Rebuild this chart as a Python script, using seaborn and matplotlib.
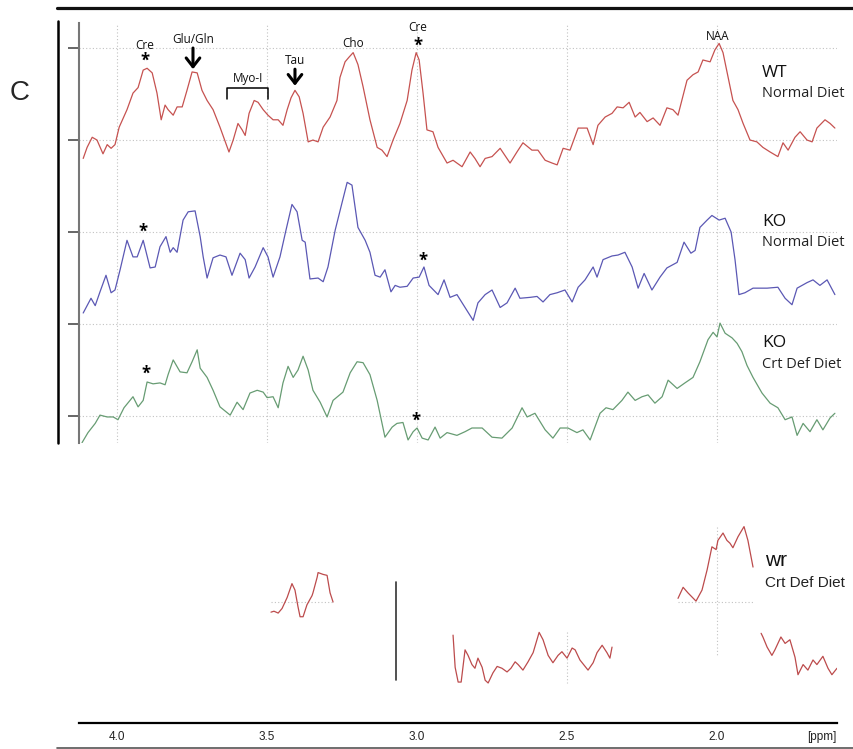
import matplotlib

matplotlib.use('Agg')
import matplotlib.pyplot as plt
from matplotlib.lines import Line2D
import pandas as pd
import seaborn as sns

sns.set_theme(style='white')
plt.rcParams['font.family'] = ['Open Sans', 'DejaVu Sans']

# %% Spectra (ppm, stacked intensity, 1 unit = 1 tick)

wt_ppm = [4.113, 4.100, 4.083, 4.067, 4.047, 4.033, 4.020, 4.007, 3.993, 3.967,
          3.947, 3.930, 3.913, 3.900, 3.883, 3.867, 3.853, 3.840, 3.830, 3.813,
          3.800, 3.783, 3.767, 3.750, 3.733, 3.717, 3.700, 3.680, 3.657, 3.627,
          3.613, 3.597, 3.583, 3.573, 3.560, 3.543, 3.530, 3.513, 3.497, 3.480,
          3.463, 3.447, 3.433, 3.420, 3.407, 3.393, 3.380, 3.363, 3.347, 3.330,
          3.313, 3.290, 3.267, 3.257, 3.240, 3.227, 3.213, 3.197, 3.180, 3.157,
          3.133, 3.117, 3.100, 3.080, 3.057, 3.033, 3.017, 3.003, 2.993, 2.980,
          2.967, 2.947, 2.930, 2.900, 2.880, 2.850, 2.823, 2.807, 2.790, 2.773,
          2.750, 2.723, 2.690, 2.667, 2.647, 2.617, 2.597, 2.573, 2.550, 2.533,
          2.513, 2.490, 2.463, 2.433, 2.413, 2.397, 2.373, 2.350, 2.333, 2.313,
          2.293, 2.273, 2.257, 2.233, 2.213, 2.190, 2.167, 2.147, 2.130, 2.100,
          2.080, 2.063, 2.047, 2.023, 2.007, 1.993, 1.980, 1.963, 1.947, 1.930,
          1.913, 1.890, 1.867, 1.847, 1.823, 1.797, 1.780, 1.763, 1.740, 1.723,
          1.700, 1.683, 1.667, 1.640, 1.623, 1.607]
wt_int = [2.80, 2.92, 3.03, 3.00, 2.85, 2.95, 2.91, 2.95, 3.14, 3.33,
          3.51, 3.57, 3.76, 3.78, 3.73, 3.51, 3.22, 3.38, 3.33, 3.27,
          3.36, 3.36, 3.54, 3.74, 3.73, 3.54, 3.43, 3.33, 3.14, 2.87,
          3.00, 3.18, 3.11, 3.05, 3.29, 3.43, 3.41, 3.33, 3.27, 3.22,
          3.22, 3.16, 3.33, 3.46, 3.54, 3.47, 3.29, 2.98, 3.00, 2.98,
          3.14, 3.25, 3.43, 3.68, 3.85, 3.90, 3.95, 3.82, 3.58, 3.22,
          2.92, 2.89, 2.82, 3.00, 3.18, 3.43, 3.76, 3.95, 3.87, 3.51,
          3.11, 3.09, 2.92, 2.75, 2.78, 2.71, 2.87, 2.80, 2.71, 2.80,
          2.82, 2.91, 2.75, 2.87, 2.97, 2.89, 2.89, 2.78, 2.75, 2.73,
          2.91, 2.89, 3.13, 3.13, 2.95, 3.16, 3.25, 3.29, 3.36, 3.35,
          3.41, 3.25, 3.30, 3.20, 3.24, 3.16, 3.35, 3.33, 3.27, 3.65,
          3.71, 3.74, 3.87, 3.85, 3.98, 4.05, 3.95, 3.68, 3.43, 3.33,
          3.18, 3.00, 2.98, 2.92, 2.87, 2.82, 2.97, 2.89, 3.03, 3.09,
          3.00, 2.98, 3.13, 3.22, 3.18, 3.13]

ko_ppm = [4.113, 4.087, 4.073, 4.057, 4.037, 4.020, 4.007, 3.990, 3.967, 3.947,
          3.933, 3.913, 3.890, 3.873, 3.857, 3.837, 3.823, 3.813, 3.800, 3.780,
          3.763, 3.740, 3.723, 3.713, 3.700, 3.680, 3.657, 3.637, 3.617, 3.590,
          3.573, 3.560, 3.540, 3.513, 3.497, 3.480, 3.457, 3.437, 3.417, 3.400,
          3.383, 3.373, 3.357, 3.330, 3.313, 3.297, 3.273, 3.250, 3.233, 3.217,
          3.197, 3.173, 3.157, 3.140, 3.123, 3.107, 3.087, 3.073, 3.057, 3.033,
          3.013, 2.993, 2.977, 2.960, 2.930, 2.910, 2.890, 2.867, 2.840, 2.813,
          2.797, 2.773, 2.750, 2.723, 2.700, 2.673, 2.657, 2.623, 2.600, 2.580,
          2.557, 2.533, 2.507, 2.483, 2.463, 2.440, 2.413, 2.400, 2.380, 2.350,
          2.330, 2.307, 2.283, 2.263, 2.243, 2.217, 2.190, 2.167, 2.133, 2.110,
          2.087, 2.073, 2.057, 2.033, 2.017, 1.993, 1.973, 1.953, 1.940, 1.927,
          1.907, 1.880, 1.857, 1.833, 1.797, 1.773, 1.750, 1.733, 1.700, 1.680,
          1.657, 1.633, 1.607]
ko_int = [1.12, 1.28, 1.20, 1.35, 1.53, 1.34, 1.37, 1.59, 1.91, 1.73,
          1.73, 1.91, 1.61, 1.62, 1.84, 1.95, 1.78, 1.83, 1.78, 2.13,
          2.22, 2.23, 1.95, 1.73, 1.50, 1.72, 1.75, 1.73, 1.53, 1.77,
          1.70, 1.50, 1.62, 1.83, 1.73, 1.51, 1.73, 2.02, 2.30, 2.22,
          1.91, 1.89, 1.49, 1.50, 1.46, 1.62, 2.02, 2.32, 2.54, 2.51,
          2.05, 1.91, 1.78, 1.53, 1.51, 1.59, 1.35, 1.42, 1.40, 1.41,
          1.50, 1.51, 1.62, 1.42, 1.32, 1.48, 1.29, 1.32, 1.18, 1.04,
          1.23, 1.32, 1.37, 1.18, 1.23, 1.39, 1.28, 1.29, 1.30, 1.24,
          1.32, 1.34, 1.37, 1.24, 1.40, 1.48, 1.62, 1.51, 1.70, 1.74,
          1.75, 1.78, 1.62, 1.39, 1.55, 1.37, 1.51, 1.61, 1.67, 1.89,
          1.77, 1.80, 2.05, 2.13, 2.18, 2.13, 2.15, 2.00, 1.70, 1.32,
          1.34, 1.39, 1.39, 1.39, 1.40, 1.28, 1.21, 1.39, 1.45, 1.48,
          1.42, 1.48, 1.32]

crt_ppm = [4.117, 4.097, 4.073, 4.057, 4.033, 4.013, 3.997, 3.977, 3.947, 3.930,
           3.913, 3.900, 3.880, 3.857, 3.840, 3.830, 3.813, 3.790, 3.767, 3.750,
           3.733, 3.723, 3.700, 3.680, 3.657, 3.623, 3.600, 3.580, 3.557, 3.533,
           3.513, 3.500, 3.480, 3.463, 3.447, 3.430, 3.413, 3.397, 3.380, 3.363,
           3.347, 3.323, 3.300, 3.280, 3.247, 3.223, 3.200, 3.180, 3.157, 3.133,
           3.107, 3.083, 3.067, 3.047, 3.030, 3.013, 3.000, 2.983, 2.963, 2.940,
           2.923, 2.900, 2.867, 2.840, 2.817, 2.783, 2.750, 2.717, 2.683, 2.650,
           2.633, 2.607, 2.573, 2.547, 2.523, 2.497, 2.467, 2.447, 2.423, 2.390,
           2.370, 2.347, 2.317, 2.297, 2.273, 2.250, 2.230, 2.207, 2.183, 2.163,
           2.133, 2.107, 2.080, 2.057, 2.030, 2.013, 2.000, 1.990, 1.973, 1.950,
           1.933, 1.917, 1.900, 1.880, 1.850, 1.823, 1.797, 1.773, 1.750, 1.733,
           1.713, 1.690, 1.667, 1.647, 1.623, 1.607]
crt_int = [-0.29, -0.18, -0.08, 0.01, -0.01, -0.01, -0.04, 0.09, 0.21, 0.10,
           0.17, 0.37, 0.35, 0.36, 0.34, 0.45, 0.61, 0.48, 0.47, 0.59,
           0.72, 0.52, 0.42, 0.28, 0.10, 0.01, 0.15, 0.07, 0.25, 0.28,
           0.26, 0.20, 0.21, 0.09, 0.36, 0.54, 0.42, 0.50, 0.65, 0.50,
           0.28, 0.15, -0.01, 0.17, 0.26, 0.47, 0.59, 0.58, 0.45, 0.17,
           -0.23, -0.12, -0.08, -0.07, -0.26, -0.17, -0.13, -0.24, -0.26, -0.12,
           -0.24, -0.18, -0.21, -0.17, -0.13, -0.13, -0.23, -0.24, -0.13, 0.09,
           -0.01, 0.03, -0.15, -0.24, -0.13, -0.13, -0.18, -0.15, -0.26, 0.03,
           0.09, 0.07, 0.17, 0.26, 0.17, 0.21, 0.23, 0.14, 0.21, 0.39,
           0.30, 0.36, 0.42, 0.59, 0.83, 0.91, 0.86, 1.01, 0.90, 0.85,
           0.79, 0.70, 0.55, 0.42, 0.25, 0.14, 0.09, -0.04, -0.01, -0.21,
           -0.08, -0.17, -0.04, -0.15, -0.02, 0.03]

# broken-up fragments of the lower "wr / Crt Def Diet" spectrum
frag1_ppm = [3.487, 3.477, 3.463, 3.450, 3.433, 3.417, 3.407, 3.397, 3.390, 3.380,
             3.367, 3.350, 3.347, 3.333, 3.330, 3.313, 3.300, 3.290, 3.280]
frag1_int = [-0.11, -0.10, -0.12, -0.07, 0.05, 0.20, 0.13, -0.05, -0.16, -0.16,
             -0.03, 0.07, 0.10, 0.27, 0.32, 0.30, 0.29, 0.10, 0.00]
frag2_ppm = [2.880, 2.873, 2.863, 2.853, 2.840, 2.830, 2.817, 2.807, 2.797, 2.783,
             2.773, 2.763, 2.747, 2.733, 2.717, 2.700, 2.687, 2.673, 2.663, 2.647,
             2.630, 2.613, 2.593, 2.580, 2.563, 2.547, 2.530, 2.517, 2.500, 2.483,
             2.473, 2.457, 2.430, 2.413, 2.400, 2.383, 2.367, 2.357, 2.350]
frag2_int = [-0.36, -0.71, -0.87, -0.87, -0.52, -0.58, -0.68, -0.72, -0.61, -0.71,
             -0.85, -0.88, -0.77, -0.70, -0.72, -0.76, -0.72, -0.65, -0.68, -0.74,
             -0.65, -0.55, -0.33, -0.41, -0.58, -0.66, -0.58, -0.54, -0.61, -0.50,
             -0.52, -0.63, -0.74, -0.66, -0.55, -0.47, -0.55, -0.61, -0.49]
frag3_ppm = [2.130, 2.113, 2.097, 2.070, 2.050, 2.033, 2.017, 2.003, 1.997, 1.980,
             1.967, 1.957, 1.947, 1.930, 1.910, 1.897, 1.880]
frag3_int = [0.04, 0.16, 0.10, 0.01, 0.13, 0.35, 0.60, 0.57, 0.67, 0.75,
             0.67, 0.64, 0.59, 0.71, 0.82, 0.67, 0.38]
frag4_ppm = [1.853, 1.847, 1.833, 1.817, 1.807, 1.787, 1.773, 1.757, 1.740, 1.730,
             1.713, 1.697, 1.680, 1.667, 1.647, 1.630, 1.617, 1.600]
frag4_int = [-0.34, -0.38, -0.49, -0.58, -0.52, -0.38, -0.45, -0.41, -0.60, -0.79,
             -0.68, -0.74, -0.63, -0.68, -0.59, -0.72, -0.79, -0.72]

ppm_ticks = [4.0, 3.5, 3.0, 2.5, 2.0]
ppm_labels = ['4.0', '3.5', '3.0', '2.5', '2.0']

peak_names = ['Cre', 'Glu/Gln', 'Myo-I', 'Tau', 'Cho', 'Cre', 'NAA']
peak_ppm = [3.907, 3.747, 3.563, 3.407, 3.213, 2.997, 1.997]
peak_y = [4.03, 4.09, 3.67, 3.86, 4.05, 4.22, 4.13]

group_names = ['WT\n', 'KO\n', 'KO\n']
diet_names = ['Normal Diet', 'Normal Diet', 'Crt Def Diet']

COLORS = {'WT': '#c65250', 'KO normal': '#5b58b4', 'KO crt': '#679c73'}
WR_COLOR = '#bc4b4c'

spectra = pd.concat([
    pd.DataFrame({'ppm': wt_ppm, 'signal': wt_int, 'trace': 'WT'}),
    pd.DataFrame({'ppm': ko_ppm, 'signal': ko_int, 'trace': 'KO normal'}),
    pd.DataFrame({'ppm': crt_ppm, 'signal': crt_int, 'trace': 'KO crt'}),
])
fragments = pd.concat([
    pd.DataFrame({'ppm': p, 'signal': s, 'piece': i})
    for i, (p, s) in enumerate([(frag1_ppm, frag1_int), (frag2_ppm, frag2_int),
                                (frag3_ppm, frag3_int), (frag4_ppm, frag4_int)])
])

# %% Figure

W, H = 854, 749
fig = plt.figure(figsize=(W / 100, H / 100), dpi=100)


def box(x0, y0, x1, y1):
    return [x0 / W, 1 - y1 / H, (x1 - x0) / W, (y1 - y0) / H]


XLIM = (4.127, 1.600)

# upper stacked spectra
ax = fig.add_axes(box(79, 23, 837, 443))
ax.set_axisbelow(True)
sns.lineplot(data=spectra, x='ppm', y='signal', hue='trace', palette=COLORS,
             estimator=None, sort=False, legend=False, lw=0.9, ax=ax)
ax.set_xlim(*XLIM)
ax.set_ylim(-0.293, 4.272)
ax.set_xticks(ppm_ticks)
ax.set_yticks([0, 1, 2, 3, 4])
ax.grid(True, ls=(0, (1, 2)), color='#c2c2c2', lw=0.8)
ax.tick_params(axis='x', bottom=False, labelbottom=False)
ax.tick_params(axis='y', left=True, length=8, width=1.4, color='#666666',
               labelleft=False)
for side in ['top', 'right', 'bottom']:
    ax.spines[side].set_visible(False)
ax.spines['left'].set_color('#777777')
ax.spines['left'].set_linewidth(1.5)
ax.set_xlabel('')
ax.set_ylabel('')

for name, x, y in zip(peak_names, peak_ppm, peak_y):
    ax.text(x, y, name, ha='center', va='center', fontsize=8.5, color='#111111')

# asterisks for the creatine peaks
star_ppm = [3.907, 2.997, 3.913, 2.980, 3.903, 3.003]
star_y = [3.86, 4.03, 2.00, 1.69, 0.46, -0.05]
for x, y in zip(star_ppm, star_y):
    ax.text(x, y, '*', ha='center', va='center', fontsize=12,
            fontweight='bold', color='black')

for x, y0, y1 in [(3.747, 4.00, 3.77), (3.407, 3.77, 3.59)]:
    ax.annotate('', xy=(x, y1), xytext=(x, y0),
                arrowprops=dict(arrowstyle='->,head_length=0.45,head_width=0.35',
                                lw=2.2, color='black', shrinkA=0, shrinkB=0,
                                mutation_scale=14))
ax.plot([3.633, 3.633, 3.497, 3.497], [3.45, 3.57, 3.57, 3.45],
        color='black', lw=1.1)

for name, diet, y in zip(group_names, diet_names, [3.73, 2.11, 0.79]):
    ax.text(1.850, y, name.strip(), ha='left', va='center', fontsize=12.5,
            color='#111111')
    ax.text(1.850, y - 0.225, diet, ha='left', va='center', fontsize=10.5,
            color='#222222')

# lower fragmented spectrum and ppm scale
ax2 = fig.add_axes(box(79, 500, 837, 723))
sns.lineplot(data=fragments, x='ppm', y='signal', units='piece',
             estimator=None, sort=False, color=WR_COLOR, lw=0.9, ax=ax2)
ax2.set_xlim(*XLIM)
ax2.set_ylim(-1.315, 1.109)
ax2.grid(False)
dot = dict(ls=(0, (1, 2)), color='#c2c2c2', lw=0.8, zorder=0)
ax2.plot([frag1_ppm[0], frag1_ppm[-1]], [0, 0], **dot)
ax2.plot([frag3_ppm[0], frag3_ppm[-1]], [0, 0], **dot)
ax2.plot([2.0, 2.0], [0.82, -0.58], **dot)
ax2.plot([2.5, 2.5], [-0.33, -0.88], **dot)
ax2.plot([3.07, 3.07], [0.22, -0.85], color='#333333', lw=1.2)
ax2.set_xticks(ppm_ticks)
ax2.set_xticklabels(ppm_labels, fontsize=8.5,
                    family=['Liberation Sans', 'DejaVu Sans'])
ax2.tick_params(axis='x', bottom=True, length=0, pad=6, colors='#222222')
ax2.tick_params(axis='y', left=False, labelleft=False)
for side in ['top', 'right', 'left']:
    ax2.spines[side].set_visible(False)
ax2.spines['bottom'].set_color('black')
ax2.spines['bottom'].set_linewidth(1.6)
ax2.set_xlabel('')
ax2.set_ylabel('')
ax2.annotate('[ppm]', xy=(1.65, 0), xycoords=('data', 'axes fraction'),
             xytext=(0, -10), textcoords='offset points', ha='center',
             va='center', fontsize=8.5, color='#222222',
             family=['Liberation Sans', 'DejaVu Sans'])
ax2.text(1.840, 0.45, 'wr', ha='left', va='center', fontsize=15,
         color='#111111', family=['Liberation Sans', 'DejaVu Sans'])
ax2.text(1.840, 0.21, 'Crt Def Diet', ha='left', va='center', fontsize=11,
         color='#222222', family=['Liberation Sans', 'DejaVu Sans'])

# panel letter and frame rules
fig.text(20 / W, 1 - 93 / H, 'C', ha='center', va='center', fontsize=20,
         family=['Liberation Sans', 'DejaVu Sans'])
fig.add_artist(Line2D([58 / W, 58 / W], [1 - 21 / H, 1 - 443 / H],
                      color='black', lw=1.8))
fig.add_artist(Line2D([57 / W, 1], [1 - 7.5 / H, 1 - 7.5 / H],
                      color='#111111', lw=2.3))
fig.add_artist(Line2D([57 / W, 1], [1 - 747.5 / H, 1 - 747.5 / H],
                      color='#555555', lw=1.2))

fig.savefig('out.png', dpi=100)
plt.close(fig)
